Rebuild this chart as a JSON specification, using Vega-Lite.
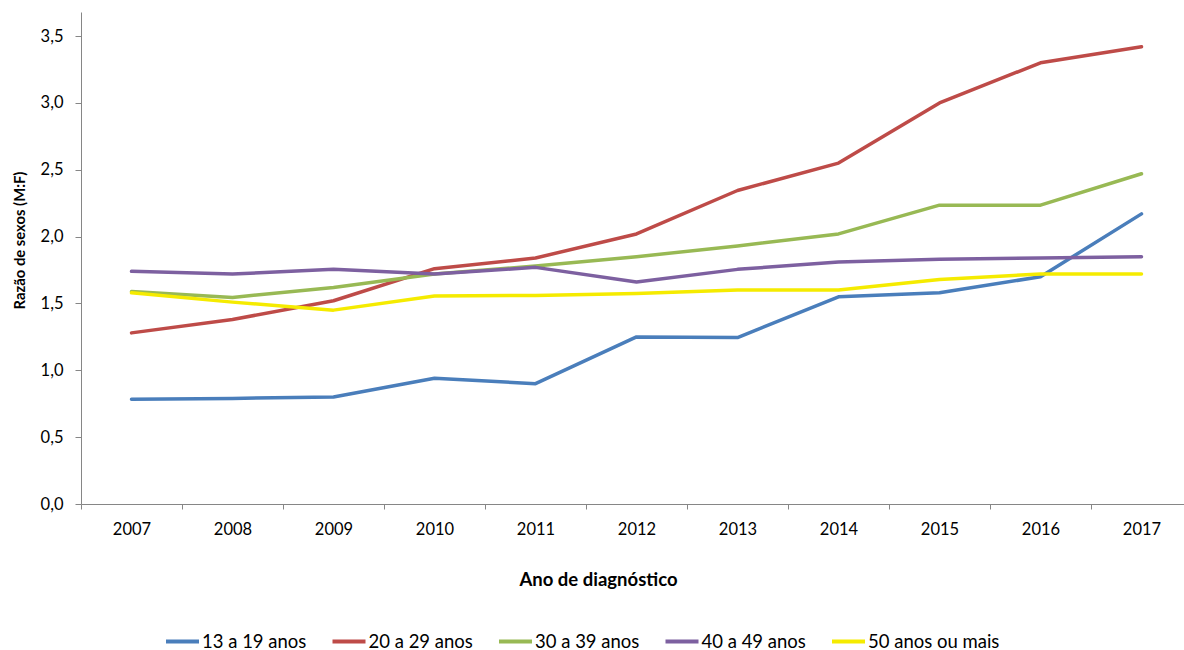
{
  "$schema": "https://vega.github.io/schema/vega-lite/v6.json",
  "width": 1103,
  "height": 492,
  "autosize": {"type": "none"},
  "padding": {"left": 81, "top": 12, "right": 0, "bottom": 146},
  "background": "white",
  "config": {
    "view": {"stroke": null},
    "font": "Lato",
    "axis": {"grid": false, "domainColor": "#868686", "tickColor": "#868686", "labelColor": "#000000", "labelFont": "Lato", "labelFontSize": 16.5, "titleFont": "Lato", "titleFontWeight": "bold", "titleColor": "#000000"}
  },
  "data": {"values": [
    {"ano": "2007", "grupo": "13 a 19 anos", "v": 0.783},
    {"ano": "2008", "grupo": "13 a 19 anos", "v": 0.79},
    {"ano": "2009", "grupo": "13 a 19 anos", "v": 0.80},
    {"ano": "2010", "grupo": "13 a 19 anos", "v": 0.94},
    {"ano": "2011", "grupo": "13 a 19 anos", "v": 0.90},
    {"ano": "2012", "grupo": "13 a 19 anos", "v": 1.25},
    {"ano": "2013", "grupo": "13 a 19 anos", "v": 1.245},
    {"ano": "2014", "grupo": "13 a 19 anos", "v": 1.55},
    {"ano": "2015", "grupo": "13 a 19 anos", "v": 1.58},
    {"ano": "2016", "grupo": "13 a 19 anos", "v": 1.70},
    {"ano": "2017", "grupo": "13 a 19 anos", "v": 2.17},
    {"ano": "2007", "grupo": "20 a 29 anos", "v": 1.28},
    {"ano": "2008", "grupo": "20 a 29 anos", "v": 1.38},
    {"ano": "2009", "grupo": "20 a 29 anos", "v": 1.52},
    {"ano": "2010", "grupo": "20 a 29 anos", "v": 1.76},
    {"ano": "2011", "grupo": "20 a 29 anos", "v": 1.84},
    {"ano": "2012", "grupo": "20 a 29 anos", "v": 2.02},
    {"ano": "2013", "grupo": "20 a 29 anos", "v": 2.345},
    {"ano": "2014", "grupo": "20 a 29 anos", "v": 2.55},
    {"ano": "2015", "grupo": "20 a 29 anos", "v": 3.00},
    {"ano": "2016", "grupo": "20 a 29 anos", "v": 3.30},
    {"ano": "2017", "grupo": "20 a 29 anos", "v": 3.42},
    {"ano": "2007", "grupo": "30 a 39 anos", "v": 1.59},
    {"ano": "2008", "grupo": "30 a 39 anos", "v": 1.545},
    {"ano": "2009", "grupo": "30 a 39 anos", "v": 1.62},
    {"ano": "2010", "grupo": "30 a 39 anos", "v": 1.72},
    {"ano": "2011", "grupo": "30 a 39 anos", "v": 1.78},
    {"ano": "2012", "grupo": "30 a 39 anos", "v": 1.85},
    {"ano": "2013", "grupo": "30 a 39 anos", "v": 1.93},
    {"ano": "2014", "grupo": "30 a 39 anos", "v": 2.02},
    {"ano": "2015", "grupo": "30 a 39 anos", "v": 2.235},
    {"ano": "2016", "grupo": "30 a 39 anos", "v": 2.235},
    {"ano": "2017", "grupo": "30 a 39 anos", "v": 2.47},
    {"ano": "2007", "grupo": "40 a 49 anos", "v": 1.74},
    {"ano": "2008", "grupo": "40 a 49 anos", "v": 1.72},
    {"ano": "2009", "grupo": "40 a 49 anos", "v": 1.755},
    {"ano": "2010", "grupo": "40 a 49 anos", "v": 1.72},
    {"ano": "2011", "grupo": "40 a 49 anos", "v": 1.77},
    {"ano": "2012", "grupo": "40 a 49 anos", "v": 1.66},
    {"ano": "2013", "grupo": "40 a 49 anos", "v": 1.755},
    {"ano": "2014", "grupo": "40 a 49 anos", "v": 1.81},
    {"ano": "2015", "grupo": "40 a 49 anos", "v": 1.83},
    {"ano": "2016", "grupo": "40 a 49 anos", "v": 1.84},
    {"ano": "2017", "grupo": "40 a 49 anos", "v": 1.85},
    {"ano": "2007", "grupo": "50 anos ou mais", "v": 1.58},
    {"ano": "2008", "grupo": "50 anos ou mais", "v": 1.51},
    {"ano": "2009", "grupo": "50 anos ou mais", "v": 1.45},
    {"ano": "2010", "grupo": "50 anos ou mais", "v": 1.555},
    {"ano": "2011", "grupo": "50 anos ou mais", "v": 1.56},
    {"ano": "2012", "grupo": "50 anos ou mais", "v": 1.575},
    {"ano": "2013", "grupo": "50 anos ou mais", "v": 1.60},
    {"ano": "2014", "grupo": "50 anos ou mais", "v": 1.60},
    {"ano": "2015", "grupo": "50 anos ou mais", "v": 1.68},
    {"ano": "2016", "grupo": "50 anos ou mais", "v": 1.72},
    {"ano": "2017", "grupo": "50 anos ou mais", "v": 1.72}
  ]},
  "mark": {"type": "line", "strokeWidth": 3.5, "strokeCap": "round", "strokeJoin": "round"},
  "encoding": {
    "x": {
      "field": "ano", "type": "ordinal", "bandPosition": 0.5,
      "scale": {"type": "band", "paddingInner": 0, "paddingOuter": 0, "range": [0, 1111]},
      "axis": {"title": "Ano de diagnóstico", "titleFontSize": 18.5, "labelAngle": 0, "tickBand": "extent", "tickSize": 5, "labelPadding": 12, "titleX": 517, "titleY": 75, "titleBaseline": "middle", "titleAnchor": "middle", "titleAlign": "center"}
    },
    "y": {
      "field": "v", "type": "quantitative",
      "scale": {"domain": [0, 3.68], "nice": false},
      "axis": {"title": "Razão de sexos (M:F)", "titleFontSize": 14.8, "values": [0, 0.5, 1, 1.5, 2, 2.5, 3, 3.5], "format": ".1f", "formatType": "number", "labelExpr": "replace(datum.label, '.', ',')", "tickSize": 6, "labelPadding": 12, "titleX": -61, "titleY": 228, "titleAngle": 270, "titleBaseline": "middle", "titleAlign": "center"}
    },
    "color": {
      "field": "grupo", "type": "nominal",
      "scale": {"domain": ["13 a 19 anos", "20 a 29 anos", "30 a 39 anos", "40 a 49 anos", "50 anos ou mais"], "range": ["#4A7EBB", "#BE4B48", "#98B954", "#7D60A0", "#F5EB00"]},
      "legend": {"title": null, "orient": "none", "legendX": 83, "legendY": 611, "direction": "horizontal", "columns": 5, "gridAlign": "none", "columnPadding": 17.5, "padding": 0, "symbolType": "stroke", "symbolSize": 1089, "symbolStrokeWidth": 4, "labelOffset": 1, "labelFontSize": 18.5, "labelFont": "Lato", "labelColor": "#000000", "labelLimit": 300, "labelBaseline": "middle"}
    }
  }
}
